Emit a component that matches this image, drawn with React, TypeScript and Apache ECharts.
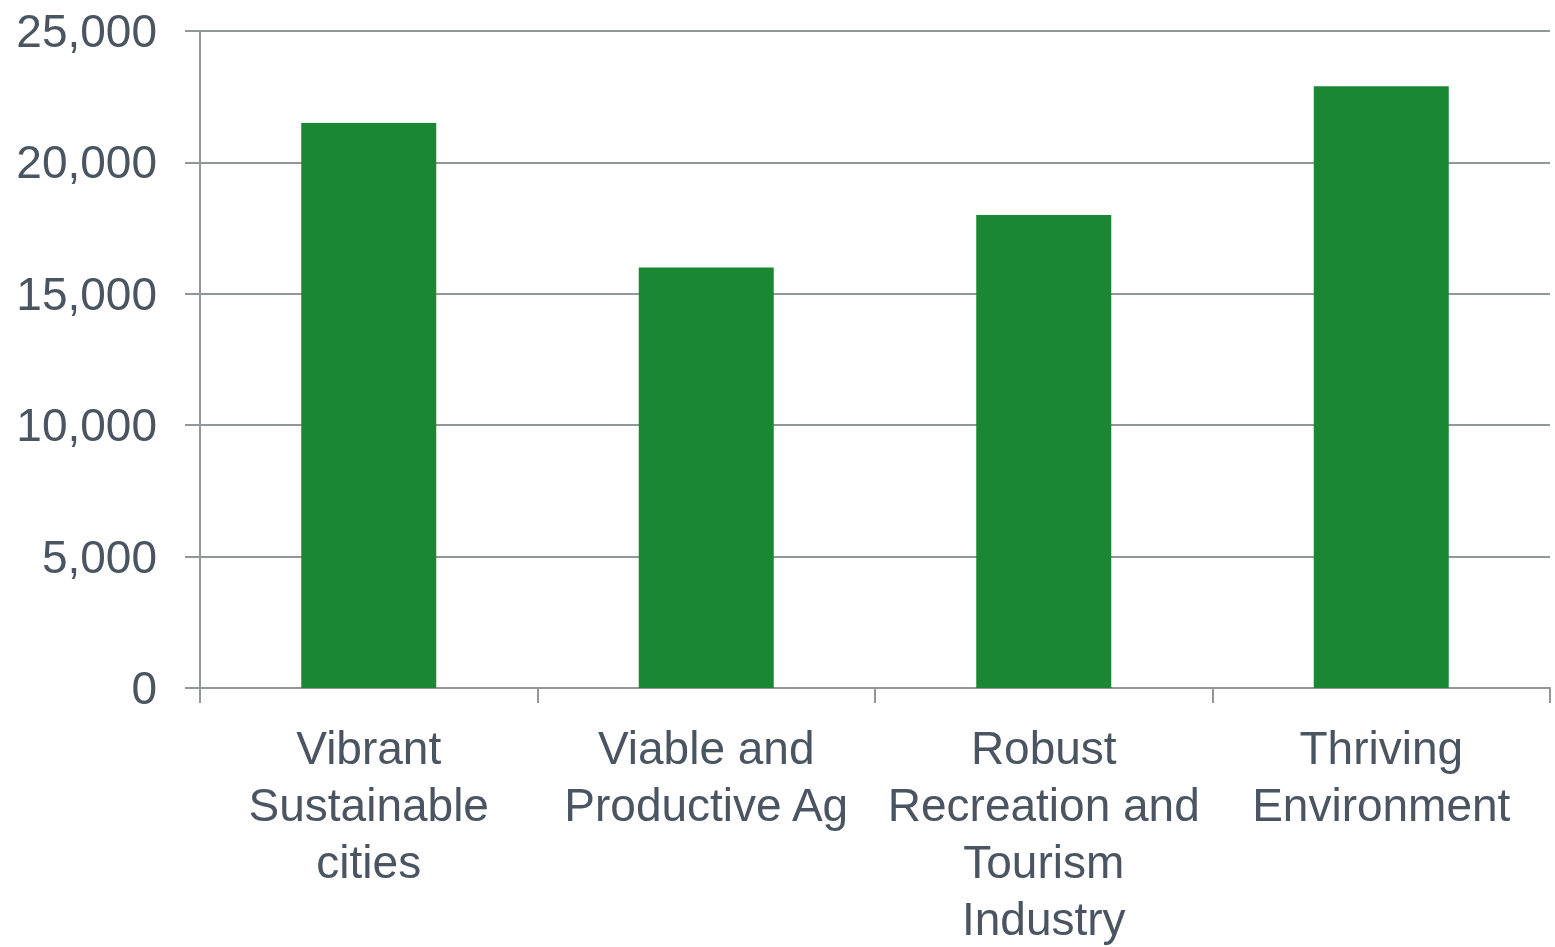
import React, { useEffect, useRef } from "react";
import * as echarts from "echarts";

const categories = [
  "Vibrant\nSustainable\ncities",
  "Viable and\nProductive Ag",
  "Robust\nRecreation and\nTourism\nIndustry",
  "Thriving\nEnvironment",
];
const values = [21500, 16000, 18000, 22900];
const yTicks = [0, 5000, 10000, 15000, 20000, 25000];

const TEXT = "#4a5561";
const GRID = "#949799";
const BAR = "#1a8733";
const FONT = "'Liberation Sans', Arial, sans-serif";

export default function App() {
  const ref = useRef<HTMLDivElement>(null);
  useEffect(() => {
    const chart = echarts.init(ref.current!, null, { renderer: "svg" });
    chart.setOption({
      animation: false,
      grid: { left: 200, right: 5, top: 31, bottom: 252, containLabel: false },
      xAxis: {
        type: "category",
        data: categories,
        axisLine: { show: true, lineStyle: { color: GRID, width: 2 } },
        axisTick: { show: true, length: 15, lineStyle: { color: GRID, width: 2 } },
        axisLabel: {
          color: TEXT,
          fontFamily: FONT,
          fontSize: 46,
          lineHeight: 57,
          margin: 31,
          interval: 0,
        },
      },
      yAxis: {
        type: "value",
        min: yTicks[0],
        max: yTicks[yTicks.length - 1],
        interval: 5000,
        axisLine: { show: true, lineStyle: { color: GRID, width: 2 } },
        axisTick: { show: true, length: 15, lineStyle: { color: GRID, width: 2 } },
        splitLine: { show: true, lineStyle: { color: GRID, width: 2 } },
        axisLabel: {
          color: TEXT,
          fontFamily: FONT,
          fontSize: 46,
          margin: 43,
          formatter: (v: number) => v.toLocaleString("en-US"),
        },
      },
      series: [
        {
          type: "bar",
          data: values,
          barWidth: "40%",
          itemStyle: { color: BAR },
        },
      ],
    });
    return () => chart.dispose();
  }, []);
  return (
    <div
      ref={ref}
      style={{ position: "fixed", left: 0, top: 0, width: 1555, height: 947 }}
    />
  );
}
